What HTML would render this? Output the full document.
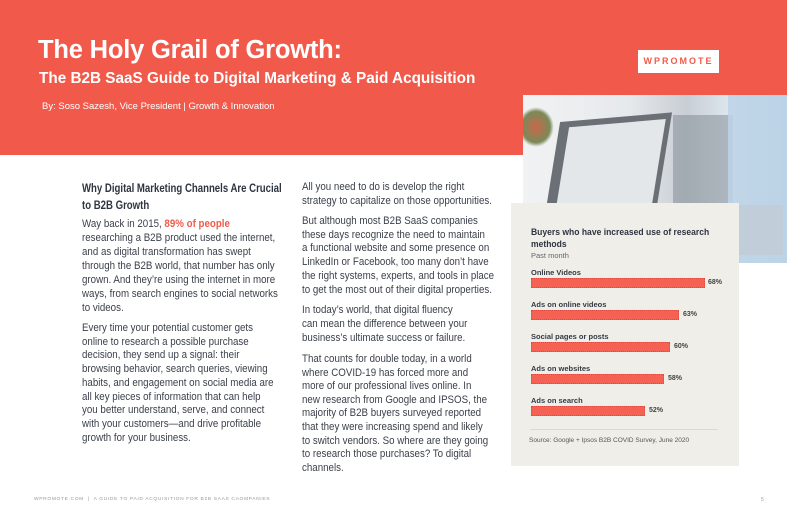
<!DOCTYPE html>
<html><head><meta charset="utf-8"><style>
*{margin:0;padding:0;box-sizing:border-box}
body{width:787px;height:513px;background:#fff;position:relative;overflow:hidden;font-family:"Liberation Sans",sans-serif}
.a{position:absolute;white-space:nowrap}
.t{font-size:11px;color:#3a3f4a;line-height:14px;transform:scaleX(.885);transform-origin:0 0}
.cl{font-size:7.5px;color:#333a44;font-weight:bold}
.bar{position:absolute;left:531px;height:10px;background:#f56253;border:1px dotted #e04a3c}
.pv{font-size:7px;font-weight:bold;color:#444}
</style></head><body>
<div class="a" style="left:0;top:0;width:787px;height:155px;background:#f15a4a"></div>
<div class="a" style="left:38px;top:36px;font-size:25.5px;font-weight:bold;color:#fff;letter-spacing:-0.2px">The Holy Grail of Growth:</div>
<div class="a" style="left:39px;top:70px;font-size:15.3px;font-weight:bold;color:#fff">The B2B SaaS Guide to Digital Marketing &amp; Paid Acquisition</div>
<div class="a" style="left:42px;top:101px;font-size:9.5px;color:#fff">By: Soso Sazesh, Vice President | Growth &amp; Innovation</div>
<div class="a" style="left:638px;top:50px;width:81px;height:23px;background:#fff;color:#f15a4a;font-size:9px;font-weight:bold;letter-spacing:2px;text-align:center;line-height:23px">WPROMOTE</div>
<!-- photo -->
<div class="a" style="left:523px;top:95px;width:264px;height:168px;background:linear-gradient(90deg,#f1f2f3 0%,#e6e9ec 40%,#c8ced4 62%,#dde6ee 78%,#b8d0e4 100%);overflow:hidden">
<div class="a" style="left:-5px;top:12px;width:36px;height:40px;background:radial-gradient(#c8684a,#7a8a58 55%,transparent 70%)"></div>
<div class="a" style="left:30px;top:22px;width:110px;height:100px;background:#6a7076;transform:skewX(-14deg) rotate(-5deg)"></div>
<div class="a" style="left:40px;top:28px;width:95px;height:86px;background:#e4e7ea;transform:skewX(-14deg) rotate(-5deg)"></div>
<div class="a" style="left:35px;top:115px;width:140px;height:35px;background:#c4c7ca;transform:skewX(-30deg)"></div>
<div class="a" style="left:150px;top:20px;width:60px;height:90px;background:#7d8890;opacity:.5"></div>
<div class="a" style="left:170px;top:110px;width:90px;height:50px;background:#d9ae96;border-radius:20px 0 0 0"></div>
<div class="a" style="left:205px;top:0;width:60px;height:168px;background:#bcd3e6;opacity:.85"></div>
</div>
<!-- left column -->
<div class="a" style="left:82px;top:180px;font-size:12px;font-weight:bold;color:#2e3440;line-height:16.5px;transform:scaleX(.8);transform-origin:0 0">Why Digital Marketing Channels Are Crucial<br>to B2B Growth</div>
<div class="a t" style="left:82px;top:217px">Way back in 2015, <span style="color:#f15a4a;font-weight:bold">89% of people</span><br>researching a B2B product used the internet,<br>and as digital transformation has swept<br>through the B2B world, that number has only<br>grown. And they’re using the internet in more<br>ways, from search engines to social networks<br>to videos.</div>
<div class="a t" style="left:82px;top:322px;line-height:13.7px">Every time your potential customer gets<br>online to research a possible purchase<br>decision, they send up a signal: their<br>browsing behavior, search queries, viewing<br>habits, and engagement on social media are<br>all key pieces of information that can help<br>you better understand, serve, and connect<br>with your customers—and drive profitable<br>growth for your business.</div>
<!-- middle column -->
<div class="a t" style="left:302px;top:180px">All you need to do is develop the right<br>strategy to capitalize on those opportunities.</div>
<div class="a t" style="left:302px;top:215px;line-height:13.7px">But although most B2B SaaS companies<br>these days recognize the need to maintain<br>a functional website and some presence on<br>LinkedIn or Facebook, too many don’t have<br>the right systems, experts, and tools in place<br>to get the most out of their digital properties.</div>
<div class="a t" style="left:302px;top:304px;line-height:13.8px">In today’s world, that digital fluency<br>can mean the difference between your<br>business’s ultimate success or failure.</div>
<div class="a t" style="left:302px;top:353px;line-height:13.6px">That counts for double today, in a world<br>where COVID-19 has forced more and<br>more of our professional lives online. In<br>new research from Google and IPSOS, the<br>majority of B2B buyers surveyed reported<br>that they were increasing spend and likely<br>to switch vendors. So where are they going<br>to research those purchases? To digital<br>channels.</div>
<!-- chart box -->
<div class="a" style="left:511px;top:203px;width:228px;height:263px;background:#f0eee9"></div>
<div class="a" style="left:531px;top:227px;font-size:9.5px;font-weight:bold;color:#2e3440;line-height:11.5px;transform:scaleX(.9);transform-origin:0 0">Buyers who have increased use of research<br>methods</div>
<div class="a" style="left:531px;top:251px;font-size:7.5px;color:#666">Past month</div>
<div class="a cl" style="left:531px;top:268px">Online Videos</div>
<div class="bar" style="top:278px;width:174px"></div><div class="a pv" style="left:708px;top:279px">68%</div>
<div class="a cl" style="left:531px;top:300px">Ads on online videos</div>
<div class="bar" style="top:310px;width:148px"></div><div class="a pv" style="left:683px;top:311px">63%</div>
<div class="a cl" style="left:531px;top:332px">Social pages or posts</div>
<div class="bar" style="top:342px;width:139px"></div><div class="a pv" style="left:674px;top:343px">60%</div>
<div class="a cl" style="left:531px;top:364px">Ads on websites</div>
<div class="bar" style="top:374px;width:133px"></div><div class="a pv" style="left:668px;top:375px">58%</div>
<div class="a cl" style="left:531px;top:396px">Ads on search</div>
<div class="bar" style="top:406px;width:114px"></div><div class="a pv" style="left:649px;top:407px">52%</div>
<div class="a" style="left:530px;top:429px;width:188px;border-top:1px solid #ddd9d2"></div>
<div class="a" style="left:529px;top:437px;font-size:6.5px;color:#555">Source: Google + Ipsos B2B COVID Survey, June 2020</div>
<!-- footer -->
<div class="a" style="left:34px;top:497px;font-size:4.9px;color:#999;letter-spacing:0.65px">WPROMOTE.COM &nbsp;|&nbsp; A GUIDE TO PAID ACQUISITION FOR B2B SAAS CAOMPANIES</div>
<div class="a" style="left:761px;top:497px;font-size:5px;color:#999">5</div>
</body></html>
